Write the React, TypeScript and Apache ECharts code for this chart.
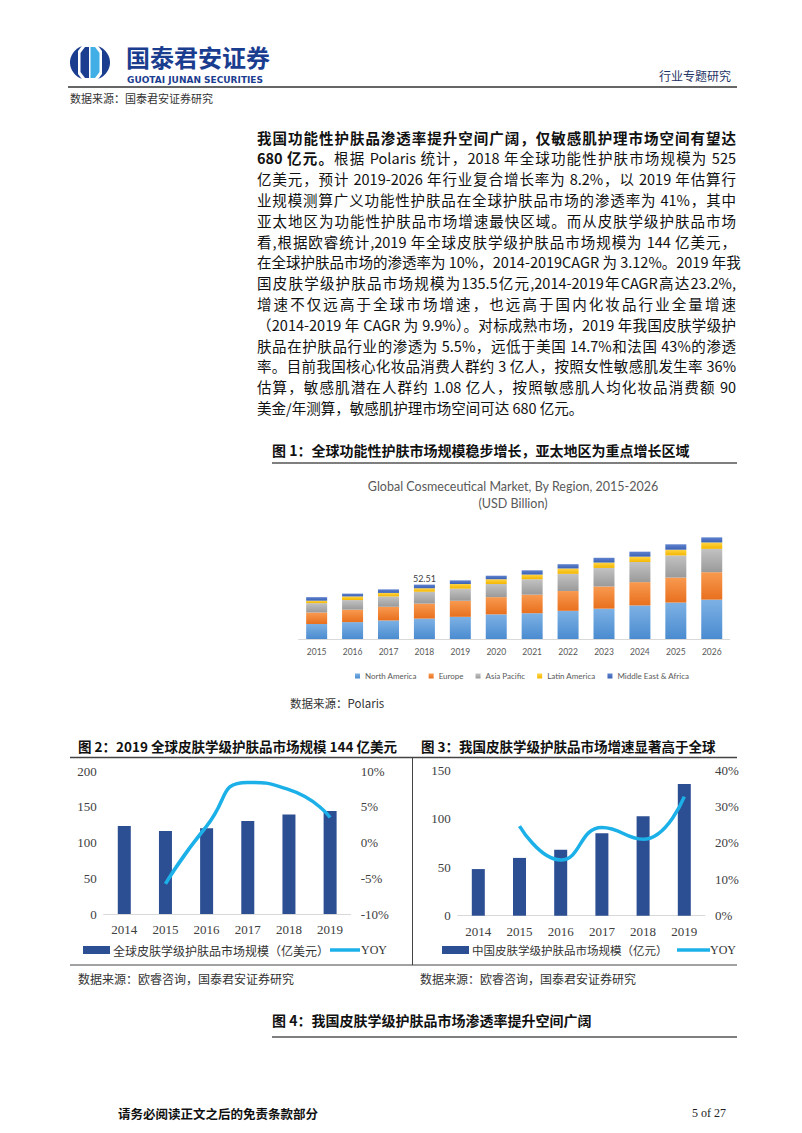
import React, { useEffect, useRef } from "react";
import * as echarts from "echarts";

// ---------- data ----------
const YEARS_1 = ["2015", "2016", "2017", "2018", "2019", "2020", "2021", "2022", "2023", "2024", "2025", "2026"];
const NORTH_AMERICA = [14.5, 16.3, 17.9, 19.7, 21.4, 23.8, 24.9, 27.2, 29.3, 32.4, 35.2, 38.0];
const EUROPE = [11.1, 12.0, 13.2, 14.5, 15.5, 16.6, 17.9, 19.1, 21.4, 22.5, 24.1, 26.5];
const ASIA_PACIFIC = [9.0, 9.3, 10.0, 11.4, 11.7, 12.7, 14.9, 16.6, 17.9, 19.4, 21.4, 22.5];
const LATIN_AMERICA = [2.4, 3.5, 3.4, 3.4, 4.5, 4.6, 4.5, 5.2, 5.2, 5.2, 5.5, 6.2];
const MIDDLE_EAST_AFRICA = [3.4, 2.7, 3.4, 3.5, 3.5, 3.4, 4.1, 4.1, 4.6, 4.8, 5.2, 4.9];
const REGION_NAMES = ["North America", "Europe", "Asia Pacific", "Latin America", "Middle East & Africa"];
const LABEL_2018 = "52.51";

const YEARS_2 = ["2014", "2015", "2016", "2017", "2018", "2019"];
const GLOBAL_DERM = [123, 116, 120, 130, 139, 144];
const GLOBAL_YOY = [null, -5.8, 2.3, 8.4, 7.4, 3.5];
const CHINA_DERM = [48, 59.5, 68, 85, 102.5, 135.5];
const CHINA_YOY = [null, 24.6, 15.3, 24.2, 21.0, 32.7];

const GLOBAL_NAME = "全球皮肤学级护肤品市场规模（亿美元）";
const CHINA_NAME = "中国皮肤学级护肤品市场规模（亿元）";

const PARA_LINES = [
  { b: "我国功能性护肤品渗透率提升空间广阔，仅敏感肌护理市场空间有望达", t: "" },
  { b: "680 亿元。", t: "根据 Polaris 统计，2018 年全球功能性护肤市场规模为 525" },
  { b: "", t: "亿美元，预计 2019-2026 年行业复合增长率为 8.2%，以 2019 年估算行" },
  { b: "", t: "业规模测算广义功能性护肤品在全球护肤品市场的渗透率为 41%，其中" },
  { b: "", t: "亚太地区为功能性护肤品市场增速最快区域。而从皮肤学级护肤品市场" },
  { b: "", t: "看,根据欧睿统计,2019 年全球皮肤学级护肤品市场规模为 144 亿美元，" },
  { b: "", t: "在全球护肤品市场的渗透率为 10%，2014-2019CAGR 为 3.12%。2019 年我" },
  { b: "", t: "国皮肤学级护肤品市场规模为135.5亿元,2014-2019年CAGR高达23.2%," },
  { b: "", t: "增速不仅远高于全球市场增速，也远高于国内化妆品行业全量增速" },
  { b: "", t: "（2014-2019 年 CAGR 为 9.9%）。对标成熟市场，2019 年我国皮肤学级护" },
  { b: "", t: "肤品在护肤品行业的渗透为 5.5%，远低于美国 14.7%和法国 43%的渗透" },
  { b: "", t: "率。目前我国核心化妆品消费人群约 3 亿人，按照女性敏感肌发生率 36%" },
  { b: "", t: "估算，敏感肌潜在人群约 1.08 亿人，按照敏感肌人均化妆品消费额 90" },
  { b: "", t: "美金/年测算，敏感肌护理市场空间可达 680 亿元。" },
];

// ---------- styles ----------
const CJK = "'Noto Sans CJK SC', sans-serif";
const SERIF = "'Liberation Serif', 'Noto Sans CJK SC', serif";
const LATO = "Lato, 'Liberation Sans', sans-serif";
const BAR_BLUE = "#2C4E92";
const LINE_BLUE = "#1CB0E8";
const NAVY = "#1B3D8F";

const grad = (a: string, b: string) =>
  new echarts.graphic.LinearGradient(0, 0, 0, 1, [
    { offset: 0, color: a },
    { offset: 1, color: b },
  ]);

const T = (x: number, y: number, text: string, fontSize: number, opt: any = {}) => ({
  type: "text",
  x,
  y,
  silent: true,
  style: {
    text,
    fontSize,
    fontFamily: opt.font || CJK,
    fontWeight: opt.bold ? "bold" : "normal",
    fill: opt.color || "#222",
    align: opt.align || "left",
    verticalAlign: "middle",
    textAlign: opt.align || "left",
    textVerticalAlign: "middle",
  },
});

const L = (x1: number, y1: number, x2: number, y2: number, w: number, c: string) => ({
  type: "line",
  silent: true,
  shape: { x1, y1, x2, y2 },
  style: { stroke: c, lineWidth: w },
});

export default function App() {
  const ref = useRef<HTMLDivElement>(null);

  useEffect(() => {
    if (!ref.current) return;
    const chart = echarts.init(ref.current, undefined, { renderer: "svg" });

    const regionColors = [
      ["#7DB1E4", "#4A8BD0"],
      ["#F89A50", "#E8701E"],
      ["#C2C2C2", "#9A9A9A"],
      ["#FFD445", "#F4B600"],
      ["#5F82CE", "#3A61B4"],
    ];
    const regionData = [NORTH_AMERICA, EUROPE, ASIA_PACIFIC, LATIN_AMERICA, MIDDLE_EAST_AFRICA];

    const regionSeries = REGION_NAMES.map((name, i) => ({
      name,
      type: "bar",
      stack: "region",
      xAxisIndex: 0,
      yAxisIndex: 0,
      barWidth: 21,
      itemStyle: { color: grad(regionColors[i][0], regionColors[i][1]) },
      data:
        i === 4
          ? regionData[i].map((v, j) =>
              j === 3
                ? {
                    value: v,
                    label: {
                      show: true,
                      position: "top",
                      distance: 2,
                      formatter: LABEL_2018,
                      fontSize: 9,
                      color: "#404040",
                      fontFamily: LATO,
                    },
                  }
                : v
            )
          : regionData[i],
    }));

    const smallXAxis = (gridIndex: number) => ({
      type: "category",
      gridIndex,
      data: YEARS_2,
      axisLine: { lineStyle: { color: "#D9D9D9", width: 1 } },
      axisTick: { show: false },
      axisLabel: { fontSize: 13, fontFamily: SERIF, color: "#404040", margin: 9 },
    });
    const valAxis = (gridIndex: number, min: number, max: number, interval: number, right: boolean, pct: boolean) => ({
      type: "value",
      gridIndex,
      position: right ? "right" : "left",
      min,
      max,
      interval,
      splitLine: { show: false },
      axisLine: { show: false },
      axisTick: { show: false },
      axisLabel: {
        fontSize: 13,
        fontFamily: SERIF,
        color: "#404040",
        margin: right ? 10 : 7,
        formatter: pct ? (v: number) => `${v}%` : undefined,
      },
    });

    const graphics: any[] = [
      // logo
      { type: "ellipse", silent: true, shape: { cx: 90, cy: 62.5, rx: 20, ry: 18 }, style: { fill: NAVY } },
      {
        type: "polygon",
        silent: true,
        shape: { points: [[84, 43], [96, 43], [102, 51], [102, 74], [96, 82], [84, 82], [78, 74], [78, 51]] },
        style: { fill: "#fff" },
      },
      {
        type: "polygon",
        silent: true,
        shape: { points: [[90.5, 47], [95, 47], [99.5, 53], [99.5, 72], [95, 78], [90.5, 78]] },
        style: { fill: "#41AEE6" },
      },
      {
        type: "polygon",
        silent: true,
        shape: { points: [[85, 47], [89, 47], [89, 78], [85, 78], [80.5, 72], [80.5, 53]] },
        style: { fill: NAVY },
      },
      T(126, 56, "国泰君安证券", 24, { bold: true, color: NAVY }),
      T(127, 79.5, "GUOTAI JUNAN SECURITIES", 9, { bold: true, color: NAVY, font: "'DejaVu Sans', sans-serif" }),
      T(731, 75, "行业专题研究", 12, { color: "#1F3565", align: "right" }),
      L(68, 87, 737, 87, 1.5, "#333"),
      T(70, 98, "数据来源：国泰君安证券研究", 11, { color: "#333" }),

      // figure 1
      T(272, 450, "图 1：全球功能性护肤市场规模稳步增长，亚太地区为重点增长区域", 14, { bold: true, color: "#111" }),
      L(272, 463, 737, 463, 1.5, "#555"),
      T(513, 486, "Global Cosmeceutical Market, By Region, 2015-2026", 12.5, { font: LATO, color: "#595959", align: "center" }),
      T(513, 503, "(USD Billion)", 12.5, { font: LATO, color: "#595959", align: "center" }),
      T(290, 703, "数据来源：Polaris", 11.5, { color: "#333" }),

      // figures 2 & 3
      T(78, 746, "图 2：2019 全球皮肤学级护肤品市场规模 144 亿美元", 13.5, { bold: true, color: "#111" }),
      T(421, 746, "图 3：我国皮肤学级护肤品市场增速显著高于全球", 13.5, { bold: true, color: "#111" }),
      L(70, 757.5, 737, 757.5, 1.5, "#444"),
      L(412.5, 757.5, 412.5, 965, 1, "#444"),
      L(70, 965, 737, 965, 1, "#444"),
      T(78, 978, "数据来源：欧睿咨询，国泰君安证券研究", 12, { color: "#333" }),
      T(420, 978, "数据来源：欧睿咨询，国泰君安证券研究", 12, { color: "#333" }),

      // legend fig 2
      { type: "rect", silent: true, shape: { x: 83, y: 946, width: 27, height: 8 }, style: { fill: BAR_BLUE } },
      T(113, 950, GLOBAL_NAME, 12, { color: "#333" }),
      L(330, 950, 360, 950, 3.5, LINE_BLUE),
      T(361, 950, "YOY", 12, { color: "#333", font: SERIF }),
      // legend fig 3
      { type: "rect", silent: true, shape: { x: 442, y: 946, width: 27, height: 8 }, style: { fill: BAR_BLUE } },
      T(472, 950, CHINA_NAME, 11.5, { color: "#333" }),
      L(677, 950, 710, 950, 3.5, LINE_BLUE),
      T(710, 950, "YOY", 12, { color: "#333", font: SERIF }),

      // figure 4
      T(272, 1020, "图 4：我国皮肤学级护肤品市场渗透率提升空间广阔", 14, { bold: true, color: "#111" }),
      L(272, 1037, 737, 1037, 1.5, "#555"),

      // footer
      T(118, 1113, "请务必阅读正文之后的免责条款部分", 12.5, { bold: true, color: "#111" }),
      T(726, 1113, "5 of 27", 12, { font: SERIF, color: "#222", align: "right" }),
    ];

    chart.setOption({
      animation: false,
      backgroundColor: "transparent",
      legend: [
        {
          left: 350,
          top: 667,
          itemWidth: 5,
          itemHeight: 5,
          itemGap: 12,
          icon: "rect",
          textStyle: { fontSize: 8, color: "#595959", fontFamily: LATO },
          data: REGION_NAMES,
        },
      ],
      grid: [
        { left: 298.7, top: 535.4, width: 431, height: 103.6 },
        { left: 103.7, top: 771, width: 247, height: 143 },
        { left: 457.7, top: 770, width: 247.2, height: 145.7 },
      ],
      xAxis: [
        {
          type: "category",
          gridIndex: 0,
          data: YEARS_1,
          axisLine: { lineStyle: { color: "#D9D9D9" } },
          axisTick: { show: false },
          axisLabel: { fontSize: 8.5, color: "#595959", fontFamily: LATO, margin: 8 },
        },
        smallXAxis(1),
        smallXAxis(2),
      ],
      yAxis: [
        { type: "value", gridIndex: 0, min: 0, max: 100, show: false },
        valAxis(1, 0, 200, 50, false, false),
        valAxis(1, -10, 10, 5, true, true),
        valAxis(2, 0, 150, 50, false, false),
        valAxis(2, 0, 40, 10, true, true),
      ],
      series: [
        ...regionSeries,
        {
          name: GLOBAL_NAME,
          type: "bar",
          xAxisIndex: 1,
          yAxisIndex: 1,
          barWidth: 13,
          itemStyle: { color: BAR_BLUE },
          data: GLOBAL_DERM,
        },
        {
          name: "YOY",
          type: "line",
          xAxisIndex: 1,
          yAxisIndex: 2,
          smooth: 0.6,
          symbol: "none",
          lineStyle: { color: LINE_BLUE, width: 3.5 },
          data: GLOBAL_YOY,
        },
        {
          name: CHINA_NAME,
          type: "bar",
          xAxisIndex: 2,
          yAxisIndex: 3,
          barWidth: 13,
          itemStyle: { color: BAR_BLUE },
          data: CHINA_DERM,
        },
        {
          name: "YOY ",
          type: "line",
          xAxisIndex: 2,
          yAxisIndex: 4,
          smooth: 0.5,
          symbol: "none",
          lineStyle: { color: LINE_BLUE, width: 3.5 },
          data: CHINA_YOY,
        },
      ],
      graphic: { elements: graphics },
    });

    return () => chart.dispose();
  }, []);

  const lineH = 20.8;
  return (
    <div style={{ position: "absolute", left: 0, top: 0, width: 802, height: 1133, background: "#fff", overflow: "hidden" }}>
      <div ref={ref} style={{ position: "absolute", left: 0, top: 0, width: 802, height: 1133 }} />
      {PARA_LINES.map((ln, i) => {
        const last = i === PARA_LINES.length - 1;
        return (
          <div
            key={i}
            style={{
              position: "absolute",
              left: 257,
              top: 138 + i * lineH - lineH / 2,
              width: 479,
              height: lineH,
              lineHeight: `${lineH}px`,
              fontSize: 14.5,
              fontFamily: "'Liberation Sans Narrow', 'Noto Sans CJK SC', sans-serif",
              color: "#111",
              whiteSpace: "nowrap",
              textAlign: last ? "left" : "justify",
              textAlignLast: last ? "left" : "justify",
            }}
          >
            {ln.b ? <b>{ln.b}</b> : null}
            {ln.t}
          </div>
        );
      })}
    </div>
  );
}
